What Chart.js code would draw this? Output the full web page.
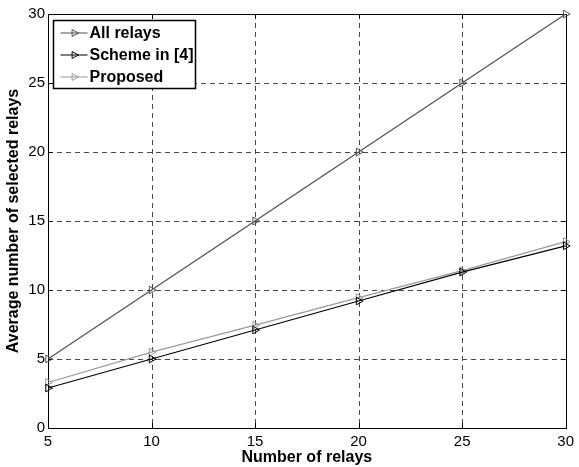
<!DOCTYPE html>
<html><head><meta charset="utf-8">
<script src="https://cdn.jsdelivr.net/npm/chart.js@4.4.0/dist/chart.umd.min.js"></script>
<style>html,body{margin:0;padding:0;background:#fff}#w{width:579px;height:467px;position:relative}</style>
</head><body><div id="w"><canvas id="c"></canvas></div>
<script>
const relays = [5, 10, 15, 20, 25, 30];
const allRelays = [5, 10, 15, 20, 25, 30];
const scheme4 = [2.9, 5.0, 7.1, 9.2, 11.3, 13.2];
const proposed = [3.3, 5.5, 7.45, 9.45, 11.4, 13.5];
const seriesNames = ['All relays', 'Scheme in [4]', 'Proposed'];
const seriesColors = ['#505050', '#000000', '#9a9a9a'];
const FONT = '"Liberation Sans", Arial, Helvetica, sans-serif';

function pts(ys){ return relays.map((x,i)=>({x:x, y:ys[i]})); }

const frame = {
  id:'frame',
  beforeDatasetsDraw(chart){
    const {ctx, chartArea:a, scales:{x,y}} = chart;
    ctx.save();
    ctx.strokeStyle = '#484848';
    ctx.lineWidth = 1;
    ctx.setLineDash([5,4]);
    x.ticks.forEach(t=>{
      const px = Math.round(x.getPixelForValue(t.value))+0.5;
      if (px < a.left+2 || px > a.right-2) return;
      ctx.beginPath(); ctx.moveTo(px,a.top); ctx.lineTo(px,a.bottom); ctx.stroke();
    });
    y.ticks.forEach(t=>{
      const py = Math.round(y.getPixelForValue(t.value))+0.5;
      if (py < a.top+2 || py > a.bottom-2) return;
      ctx.beginPath(); ctx.moveTo(a.left,py); ctx.lineTo(a.right,py); ctx.stroke();
    });
    ctx.setLineDash([]);
    ctx.strokeStyle = '#000';
    ctx.strokeRect(Math.round(a.left)+0.5, Math.round(a.top)+0.5, Math.round(a.right-a.left), Math.round(a.bottom-a.top));
    const L = 5;
    x.ticks.forEach(t=>{
      const px = Math.round(x.getPixelForValue(t.value))+0.5;
      ctx.beginPath(); ctx.moveTo(px,a.bottom); ctx.lineTo(px,a.bottom-L);
      ctx.moveTo(px,a.top); ctx.lineTo(px,a.top+L); ctx.stroke();
    });
    y.ticks.forEach(t=>{
      const py = Math.round(y.getPixelForValue(t.value))+0.5;
      ctx.beginPath(); ctx.moveTo(a.left,py); ctx.lineTo(a.left+L,py);
      ctx.moveTo(a.right,py); ctx.lineTo(a.right-L,py); ctx.stroke();
    });
    ctx.restore();
  }
};

function tri(ctx, cx, cy, r, color){
  ctx.beginPath();
  ctx.moveTo(cx + r, cy);
  ctx.lineTo(cx - r*0.6, cy - r*0.85);
  ctx.lineTo(cx - r*0.6, cy + r*0.85);
  ctx.closePath();
  ctx.strokeStyle = color; ctx.lineWidth = 1; ctx.stroke();
}

const boxLegend = {
  id:'boxLegend',
  afterDatasetsDraw(chart){
    const {ctx, chartArea:a} = chart;
    const x0 = a.left + 5.5, y0 = a.top + 6.5, w = 142, h = 68;
    ctx.save();
    ctx.fillStyle = '#fff';
    ctx.fillRect(x0, y0, w, h);
    ctx.strokeStyle = '#000'; ctx.lineWidth = 1.5;
    ctx.strokeRect(x0, y0, w, h);
    ctx.font = 'bold 16px ' + FONT;
    ctx.textBaseline = 'middle';
    chart.data.datasets.forEach((ds,i)=>{
      const ry = y0 + 12.5 + i*22;
      ctx.strokeStyle = ds.borderColor; ctx.lineWidth = 1;
      ctx.beginPath(); ctx.moveTo(x0+7, ry); ctx.lineTo(x0+34, ry); ctx.stroke();
      tri(ctx, x0+21, ry, 4, ds.borderColor);
      ctx.fillStyle = '#000';
      ctx.fillText(ds.label, x0+36, ry+1);
    });
    ctx.restore();
  }
};

new Chart(document.getElementById('c'), {
  type:'line',
  data:{
    datasets:[allRelays, scheme4, proposed].map((ys,i)=>({
      label: seriesNames[i],
      data: pts(ys),
      borderColor: seriesColors[i],
      backgroundColor: 'rgba(0,0,0,0)',
      borderWidth: 1.2,
      pointStyle: 'triangle',
      rotation: 90,
      radius: 4.5,
      pointBorderWidth: 1,
      pointBorderColor: seriesColors[i],
      pointBackgroundColor: 'rgba(0,0,0,0)',
      tension: 0,
      clip: false
    }))
  },
  options:{
    responsive:true, maintainAspectRatio:false, animation:false,
    layout:{padding:{top:14, right:12, left:0, bottom:0}},
    plugins:{legend:{display:false}, tooltip:{enabled:false}},
    scales:{
      x:{
        type:'linear', min:5, max:30,
        grid:{display:false, drawTicks:false},
        border:{display:false},
        ticks:{stepSize:5, color:'#000', padding:5, font:{family:FONT, size:15}},
        title:{display:true, text:'Number of relays', color:'#000', font:{family:FONT, size:16, weight:'bold'}, padding:{top:0,bottom:0}},
        afterFit(s){ s.height = 39; }
      },
      y:{
        type:'linear', min:0, max:30,
        grid:{display:false, drawTicks:false},
        border:{display:false},
        ticks:{stepSize:5, color:'#000', padding:3, font:{family:FONT, size:15}},
        title:{display:true, text:'Average number of selected relays', color:'#000', font:{family:FONT, size:16, weight:'bold'}, padding:{top:4,bottom:0}},
        afterFit(s){ s.width = 48; }
      }
    }
  },
  plugins:[frame, boxLegend]
});
</script>
</body></html>
